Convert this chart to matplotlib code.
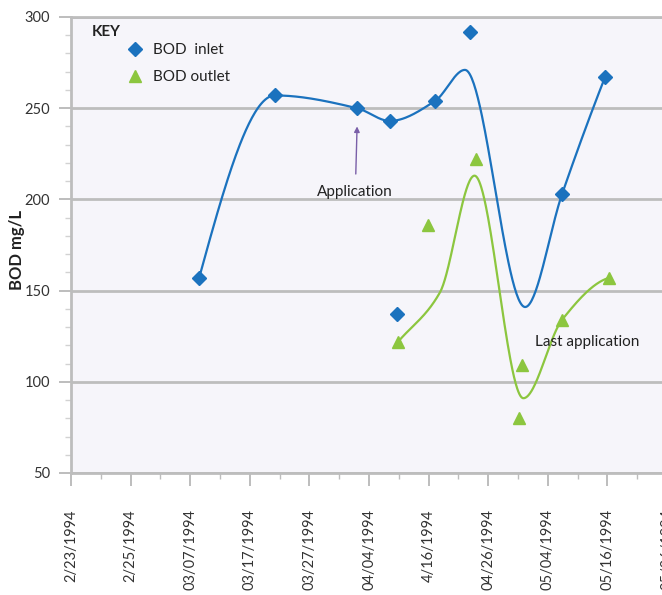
import numpy as np
import matplotlib
matplotlib.use('Agg')
import matplotlib.pyplot as plt
from matplotlib.ticker import MultipleLocator, FixedLocator

plt.rcParams['font.family'] = ['Lato', 'DejaVu Sans']

# ── data (x = position along the date axis, one unit per tick) ──
date_labels = ['2/23/1994', '2/25/1994', '03/07/1994', '03/17/1994', '03/27/1994',
               '04/04/1994', '4/16/1994', '04/26/1994', '05/04/1994', '05/16/1994',
               '05/26/1994']

inlet_x = [2.15, 3.42, 4.80, 5.35, 5.47, 6.11, 6.69, 8.24, 8.96]
inlet_y = [157, 257, 250, 243, 137, 254, 292, 203, 267]

outlet_x = [5.49, 5.99, 6.80, 7.52, 7.57, 8.24, 9.03]
outlet_y = [122, 186, 222, 80, 109, 134, 157]

# smoothed trend lines (knots)
inlet_fit_x = [2.15, 3.42, 4.80, 5.35, 6.11, 6.61, 7.62, 8.24, 8.96]
inlet_fit_y = [157, 257, 250, 243, 254, 271, 141, 203, 267]

outlet_fit_x = [5.49, 6.19, 6.77, 7.59, 8.24, 9.03]
outlet_fit_y = [122, 149, 213, 91, 134, 157]

BLUE = '#1b72be'
GREEN = '#8cc63f'
GRID = '#bdbdbd'
TXT = '#333333'


def smooth(x, y, xs):
    # shape-preserving cubic hermite
    x = np.asarray(x, float)
    y = np.asarray(y, float)
    h = np.diff(x)
    d = np.diff(y) / h
    n = len(x)
    m = np.zeros(n)
    for k in range(1, n - 1):
        if d[k - 1] * d[k] > 0:
            w1 = 2 * h[k] + h[k - 1]
            w2 = h[k] + 2 * h[k - 1]
            m[k] = (w1 + w2) / (w1 / d[k - 1] + w2 / d[k])

    def end(h0, h1, d0, d1):
        mm = ((2 * h0 + h1) * d0 - h0 * d1) / (h0 + h1)
        if np.sign(mm) != np.sign(d0):
            mm = d0
        return mm

    m[0] = end(h[0], h[1], d[0], d[1])
    m[-1] = end(h[-1], h[-2], d[-1], d[-2])
    i = np.clip(np.searchsorted(x, xs) - 1, 0, n - 2)
    t = (xs - x[i]) / h[i]
    h00 = 2 * t**3 - 3 * t**2 + 1
    h10 = t**3 - 2 * t**2 + t
    h01 = -2 * t**3 + 3 * t**2
    h11 = t**3 - t**2
    return h00 * y[i] + h10 * h[i] * m[i] + h01 * y[i + 1] + h11 * h[i] * m[i + 1]


fig = plt.figure(figsize=(6.62, 5.95), dpi=100)
ax = fig.add_axes([71 / 662, 122 / 595, 10.6 * 59.6 / 662, 456 / 595])
ax.set_facecolor('#f6f5fa')

xs = np.linspace(inlet_fit_x[0], inlet_fit_x[-1], 400)
ax.plot(xs, smooth(inlet_fit_x, inlet_fit_y, xs), color=BLUE, lw=1.6, zorder=3)
xs = np.linspace(outlet_fit_x[0], outlet_fit_x[-1], 400)
ax.plot(xs, smooth(outlet_fit_x, outlet_fit_y, xs), color=GREEN, lw=1.6, zorder=3)

ax.plot(inlet_x, inlet_y, 'D', color=BLUE, ms=7, ls='none', zorder=4, label='BOD  inlet')
ax.plot(outlet_x, outlet_y, '^', color=GREEN, ms=9, ls='none', zorder=4, label='BOD outlet')

ax.set_xlim(0, 10.6)
ax.set_ylim(50, 300)

ax.xaxis.set_major_locator(FixedLocator(range(len(date_labels))))
ax.set_xticklabels(date_labels, rotation=90, va='top', ha='center')
ax.xaxis.set_minor_locator(MultipleLocator(0.5))
ax.yaxis.set_major_locator(MultipleLocator(50))
ax.yaxis.set_minor_locator(MultipleLocator(10))

ax.tick_params(axis='x', which='major', length=9, width=1.4, color=GRID,
               labelsize=10.5, labelcolor=TXT, pad=17)
ax.tick_params(axis='x', which='minor', length=4, width=1.0, color=GRID)
ax.tick_params(axis='y', which='major', length=9, width=1.4, color=GRID,
               labelsize=10.5, labelcolor=TXT, pad=6)
ax.tick_params(axis='y', which='minor', length=4, width=1.0, color='#d2d2d2')

ax.grid(axis='y', which='major', color=GRID, lw=2.0)
ax.set_axisbelow(True)
for s in ['left', 'bottom', 'top']:
    ax.spines[s].set_color(GRID)
    ax.spines[s].set_linewidth(2.0)
ax.spines['right'].set_visible(False)

ax.set_ylabel('BOD mg/L', fontsize=12, fontweight='bold', color='#222222')
ax.yaxis.set_label_coords(-46 / 632, 0.49)

# key
ax.text(21 / 632, 1 - 15 / 456, 'KEY', transform=ax.transAxes, fontsize=11,
        fontweight='bold', color='#222222', ha='left', va='center')
leg = ax.legend(loc='upper left', bbox_to_anchor=(56 / 632, 1 - 26 / 456),
                frameon=False, fontsize=11, handlelength=1.0, handletextpad=0.7,
                labelspacing=0.85, borderaxespad=0, borderpad=0)
for t in leg.get_texts():
    t.set_color('#222222')

ax.annotate('Application', xy=(4.80, 240), xytext=(4.77, 204),
            ha='center', va='center', fontsize=11, color='#222222',
            arrowprops=dict(arrowstyle='-|>', color='#7a5fa8', lw=1.0,
                            mutation_scale=8, shrinkA=6, shrinkB=0))
ax.text(8.66, 121.7, 'Last application', ha='center', va='center',
        fontsize=11, color='#222222')

fig.savefig('out.png', dpi=100)
